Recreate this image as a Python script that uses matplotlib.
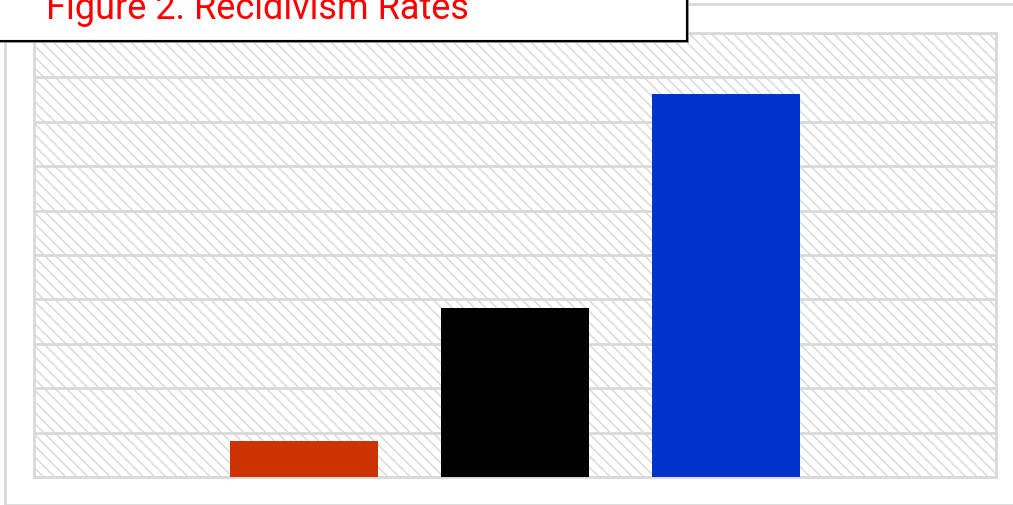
import matplotlib.pyplot as plt
from matplotlib.patches import Rectangle
import numpy as np

# ~~~~~~~~~~~~~~~~~~~~~~~~~~~~~~~~~~   DATA   ~~~~~~~~~~~~~~~~~~~~~~~~~~~~~~~~~~
groups = ['Group A', 'Group B', 'Group C']
rates = [0.81, 3.8, 8.63]
bar_colors = ['#cc3300', '#000000', '#0033cc']
title = 'Figure 2. Recidivism Rates'

W, H = 1013, 506
fig = plt.figure(figsize=(W / 100, H / 100), dpi=100)
plt.rcParams['hatch.color'] = '#dcdcdc'
plt.rcParams['hatch.linewidth'] = 1.2


def px(x, y):
    # pixel coords (from top-left) -> figure fraction
    return x / W, 1 - y / H


# outer light frame (runs off the right edge)
fx, fy = px(5, 506)
frame = Rectangle((fx, fy), (1030 - 5) / W, 501 / H, transform=fig.transFigure,
                  fill=False, edgecolor='#d9d9d9', linewidth=2, zorder=0)
fig.patches.append(frame)

l, b = px(34, 478)
r, t = px(996, 34)
ax = fig.add_axes([l, b, r - l, t - b])

# hatched background
ax.add_patch(Rectangle((0, 0), 1, 1, transform=ax.transAxes, facecolor='white',
                       hatch='\\\\\\', edgecolor='#dcdcdc', linewidth=0, zorder=0))

x = np.arange(len(groups))
ax.bar(x, rates, width=0.7, color=bar_colors, zorder=3)

ax.set_xlim(-1.28, 3.28)
ax.set_ylim(0, 10)
ax.set_yticks(np.arange(0, 11, 1))
ax.set_xticks([])
ax.yaxis.grid(True, color='#d9d9d9', linewidth=2, zorder=1)
ax.set_axisbelow(True)
ax.tick_params(left=False, labelleft=False)
for s in ax.spines.values():
    s.set_color('#d9d9d9')
    s.set_linewidth(2)

# title box with shadow
sx, sy = px(-10, 44)
shadow = Rectangle((sx, sy), (689 + 10) / W, 60 / H, transform=fig.transFigure,
                   facecolor='#999999', edgecolor='none', zorder=5)
bx, by = px(-10, 42)
box = Rectangle((bx, by), (687 + 10) / W, 60 / H, transform=fig.transFigure,
                facecolor='white', edgecolor='black', linewidth=1.5, zorder=6)
fig.patches.extend([shadow, box])
tx, ty = px(46, 19)
fig.text(tx, ty, title, color='#ff0000', fontsize=26, family='Roboto',
         va='baseline', ha='left', zorder=7)

plt.savefig('out.png', dpi=100)
